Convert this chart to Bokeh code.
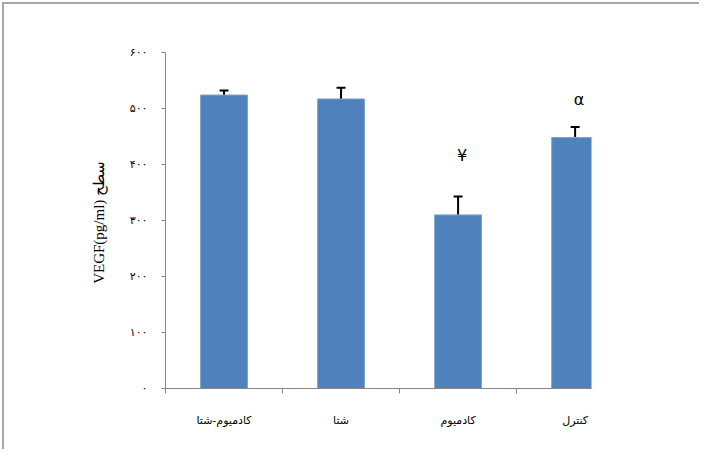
from bokeh.plotting import figure
from bokeh.models import (ColumnDataSource, Range1d, FixedTicker, Whisker, TeeHead)
from bokeh.embed import file_html
from bokeh.resources import INLINE
from bokeh.core.properties import value

# ---- data ----
categories = ["کادمیوم-شتا", "شتا", "کادمیوم", "کنترل"]
means = [524, 517, 310, 448]
errors = [8, 20, 33, 19]
marks = ["", "", "¥", "α"]
mark_levels = [0, 0, 416, 516]
y_ticks = [0, 100, 200, 300, 400, 500, 600]
y_tick_labels = ["۰", "۱۰۰", "۲۰۰", "۳۰۰", "۴۰۰", "۵۰۰", "۶۰۰"]

xs = [i + 0.5 for i in range(len(categories))]
src = ColumnDataSource(dict(x=xs, top=means, upper=[m + e for m, e in zip(means, errors)]))
msrc = ColumnDataSource(dict(x=[xs[i] for i in range(len(marks)) if marks[i]],
                             y=[mark_levels[i] for i in range(len(marks)) if marks[i]],
                             t=[m for m in marks if m]))

p = figure(width=697, height=447, output_backend="svg", toolbar_location=None,
           x_range=Range1d(0, 3.64), y_range=Range1d(0, 600),
           min_border_left=161, min_border_top=48, min_border_bottom=63, min_border_right=110)
p.styles = {"border-top": "2px solid #a6a6a6", "border-left": "2px solid #a6a6a6",
            "margin-top": "2px", "margin-left": "2px"}
p.outline_line_color = None
p.grid.visible = False

p.vbar(x="x", top="top", width=0.4, bottom=0, source=src,
       fill_color="#4f81bd", line_color="#7aa0cf", line_width=1)

w = Whisker(base="x", lower="top", upper="upper", source=src,
            line_color="black", line_width=2,
            upper_head=TeeHead(size=9, line_color="black", line_width=2),
            lower_head=None)
p.add_layout(w)

p.text(x="x", y="y", text="t", source=msrc, x_offset=4,
       text_align="center", text_baseline="middle",
       text_font=value("DejaVu Sans"), text_font_size="16px", text_color="black")

# x axis
p.xaxis.ticker = FixedTicker(ticks=xs, minor_ticks=[0, 1, 2, 3])
p.xaxis.major_label_overrides = {x: c for x, c in zip(xs, categories)}
p.xaxis.major_tick_out = 0
p.xaxis.major_tick_in = 0
p.xaxis.minor_tick_out = 5
p.xaxis.minor_tick_in = 0
p.xaxis.minor_tick_line_color = "#868686"
p.xaxis.axis_line_color = "#868686"
p.xaxis.major_label_text_font = "DejaVu Sans"
p.xaxis.major_label_text_font_size = "11px"
p.xaxis.major_label_text_color = "black"
p.xaxis.major_label_standoff = 20

# y axis
p.yaxis.ticker = FixedTicker(ticks=y_ticks, minor_ticks=[])
p.yaxis.major_label_overrides = {t: l for t, l in zip(y_ticks, y_tick_labels)}
p.yaxis.major_tick_out = 4
p.yaxis.major_tick_in = 0
p.yaxis.major_tick_line_color = "#868686"
p.yaxis.axis_line_color = "#868686"
p.yaxis.major_label_text_font = "DejaVu Sans"
p.yaxis.major_label_text_font_size = "11px"
p.yaxis.major_label_text_color = "black"
p.yaxis.major_label_standoff = 14
p.yaxis.axis_label = "VEGF(pg/ml)  سطح"
p.yaxis.axis_label_text_font = "Liberation Serif"
p.yaxis.axis_label_text_font_style = "normal"
p.yaxis.axis_label_text_font_size = "15px"
p.yaxis.axis_label_text_color = "black"
p.yaxis.axis_label_standoff = 20

open("out.html", "w").write(file_html(p, INLINE))
